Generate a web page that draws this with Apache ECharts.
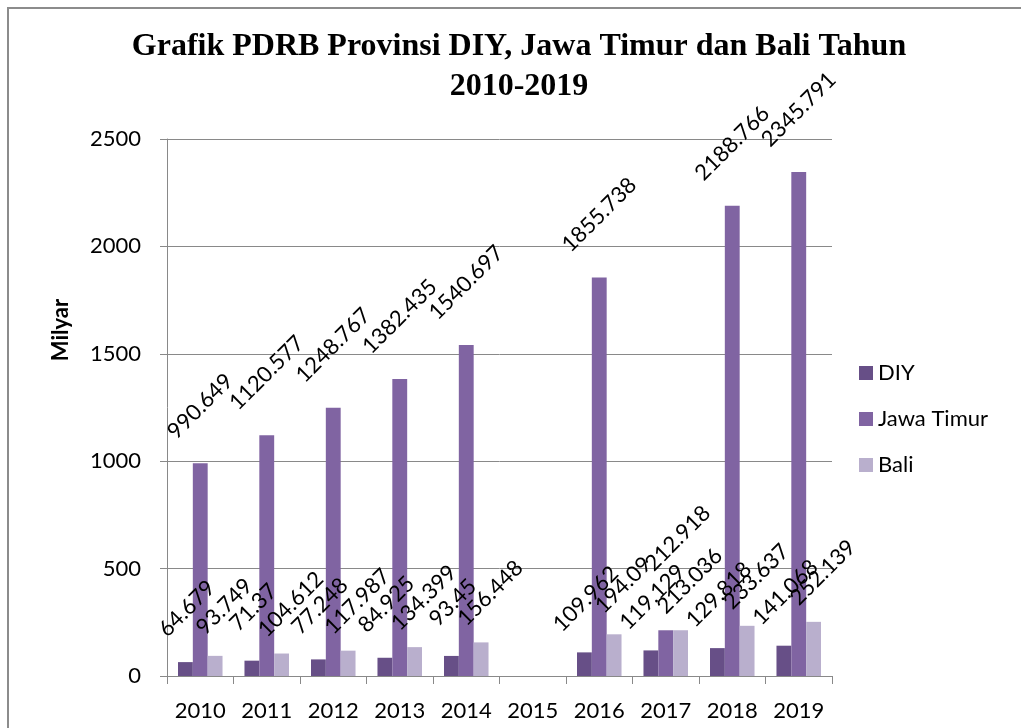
<!DOCTYPE html>
<html><head><meta charset="utf-8">
<script src="https://cdn.jsdelivr.net/npm/echarts@6/dist/echarts.min.js"></script>
<style>html,body{margin:0;padding:0;background:#fff}#c{width:1021px;height:728px}</style>
</head><body><div id="c"></div>
<script>
const categories = ['2010','2011','2012','2013','2014','2015','2016','2017','2018','2019'];
const diy = [64.679, 71.37, 77.248, 84.925, 93.45, null, 109.962, 119.129, 129.818, 141.068];
const jawaTimur = [990.649, 1120.577, 1248.767, 1382.435, 1540.697, null, 1855.738, 212.918, 2188.766, 2345.791];
const bali = [93.749, 104.612, 117.987, 134.399, 156.448, null, 194.09, 213.036, 233.637, 252.139];
const seriesNames = ['DIY', 'Jawa Timur', 'Bali'];
const colors = ['#674F87', '#8064A2', '#B9AFCD'];

const FONT = 'Lato';
const ctx = document.createElement('canvas').getContext('2d');
ctx.font = '22px ' + FONT;
function items(values, distFn, special) {
  return values.map((v, i) => {
    if (v == null) return null;
    const it = { value: v, label: { distance: distFn(v) } };
    if (special && special[i]) Object.assign(it.label, special[i]);
    return it;
  });
}
const jtDist = v => 20 + 0.45 * ctx.measureText(String(v)).width;

const labelCfg = (dx) => ({
  show: true, position: 'top', rotate: 45, align: 'center', verticalAlign: 'middle',
  color: '#000', fontSize: 22, fontFamily: FONT, offset: [dx, 0]
});
const gray = '#898989';
const chart = echarts.init(document.getElementById('c'));
chart.setOption({
  animation: false,
  title: {
    text: 'Grafik PDRB Provinsi DIY, Jawa Timur dan Bali Tahun\n2010-2019',
    left: 514, top: 22, textAlign: 'center',
    textStyle: { fontFamily: 'Liberation Serif', fontWeight: 'bold', fontSize: 32, lineHeight: 40, color: '#000' }
  },
  graphic: [
    { type: 'rect', shape: { x: 8, y: 8, width: 1100, height: 800 }, style: { fill: 'none', stroke: '#8c8c8c', lineWidth: 2 }, silent: true },
    { type: 'text', x: 61, y: 330, rotation: Math.PI / 2,
      style: { text: 'Milyar', font: 'bold 22px ' + FONT, fill: '#000', align: 'center', verticalAlign: 'middle' } }
  ],
  legend: {
    orient: 'vertical', left: 854, top: 357, itemWidth: 14, itemHeight: 14, itemGap: 24, icon: 'rect',
    textStyle: { fontSize: 22, fontFamily: FONT, color: '#000' },
    data: seriesNames
  },
  grid: { left: 167, right: 189, top: 139, bottom: 52 },
  xAxis: {
    type: 'category', data: categories,
    axisLine: { lineStyle: { color: gray, width: 1 } },
    axisTick: { show: true, length: 8, lineStyle: { color: gray } },
    axisLabel: { fontSize: 22, fontFamily: FONT, color: '#000', margin: 24, interval: 0 }
  },
  yAxis: {
    type: 'value', min: 0, max: 2500, interval: 500,
    axisLine: { show: true, lineStyle: { color: gray, width: 1 } },
    axisTick: { show: true, length: 7, lineStyle: { color: gray } },
    splitLine: { lineStyle: { color: gray, width: 1 } },
    axisLabel: { fontSize: 22, fontFamily: FONT, color: '#000', margin: 26, formatter: v => String(v) }
  },
  series: [
    { name: seriesNames[0], type: 'bar', data: items(diy, () => 52), itemStyle: { color: colors[0] }, barGap: '0%', barCategoryGap: '33%', label: labelCfg(2) },
    { name: seriesNames[1], type: 'bar', data: items(jawaTimur, jtDist, { 7: { distance: 80, offset: [17, 0] } }), itemStyle: { color: colors[1] }, barGap: '0%', barCategoryGap: '33%', label: labelCfg(0) },
    { name: seriesNames[2], type: 'bar', data: items(bali, () => 40), itemStyle: { color: colors[2] }, barGap: '0%', barCategoryGap: '33%', label: labelCfg(13) }
  ]
});
</script></body></html>
